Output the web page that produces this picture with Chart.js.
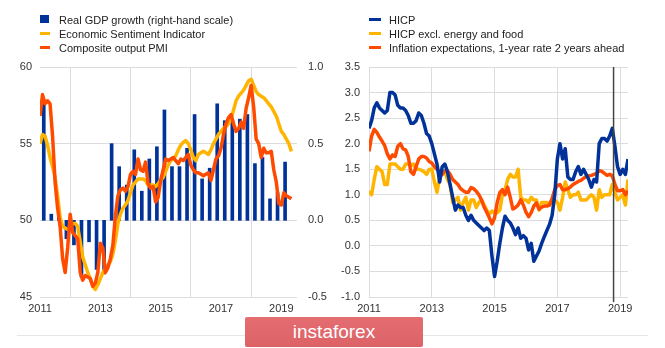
<!DOCTYPE html>
<html>
<head>
<meta charset="utf-8">
<script src="https://cdn.jsdelivr.net/npm/chart.js@4.4.1/dist/chart.umd.min.js"></script>
<style>
  html, body { margin: 0; padding: 0; background: #fff; }
  body { width: 665px; height: 348px; position: relative; overflow: hidden;
         font-family: 'Liberation Sans', Arial, sans-serif; }
  canvas { position: absolute; top: 0; }
  .legend { position: absolute; top: 13px; font-size: 11px; color: #222; }
  .legend div { position: relative; height: 14px; line-height: 14px; white-space: nowrap; }
  .legend span.mk { position: absolute; left: 0; }
  .rule { position: absolute; left: 17px; top: 335px; width: 631px; height: 1px; background: #e6e6e6; }
  .brand { position: absolute; left: 245px; top: 317px; width: 178px; height: 30px; border-radius: 2px;
           background: linear-gradient(#e46d71, #dc6266); color: #fff; font-size: 19px;
           line-height: 30px; text-align: center; }
</style>
</head>
<body>
<canvas id="left" width="333" height="320" style="left:0"></canvas>
<canvas id="right" width="332" height="320" style="left:333px"></canvas>
<div class="legend" id="legendLeft" style="left:40px"></div>
<div class="legend" id="legendRight" style="left:369px"></div>
<div class="rule"></div>
<div class="brand">instaforex</div>
<script>
// month starts Jan 2011 .. May 2019, quarter mid-points 2011Q1 .. 2019Q1
const months = [];
for (let i = 0; i < 101; i++) months.push(2011 + i / 12);
const quarters = [];
for (let i = 0; i < 33; i++) quarters.push(2011.125 + i * 0.25);
const yearTicks = [2011, 2013, 2015, 2017, 2019];
const markerYear = 2018.79;

// left panel
const gdpGrowth = [0.76, 0.04, 0.05, -0.12, -0.16, -0.37, -0.14, -0.32, -0.35, 0.5, 0.35, 0.23, 0.46,
  0.19, 0.4, 0.48, 0.72, 0.35, 0.35, 0.47, 0.69, 0.27, 0.34, 0.76, 0.65, 0.65, 0.66, 0.69, 0.37,
  0.41, 0.14, 0.18, 0.38];
const esi = [55.0, 55.6, 55.5, 54.9, 54.1, 53.5, 52.8, 51.6, 50.2, 49.6, 49.5, 49.4,
  49.5, 49.8, 49.8, 49.6, 48.6, 47.6, 47.1, 46.6, 46.2, 45.7, 45.5, 45.8,
  46.2, 46.6, 46.9, 47.1, 47.3, 47.8, 48.7, 49.8, 50.4, 50.8, 51.0, 51.3,
  51.8, 52.3, 52.5, 52.7, 52.7, 52.7, 52.6, 52.3, 52.3, 52.3, 52.2, 52.4,
  52.6, 52.8, 53.2, 53.6, 53.9, 54.0, 54.2, 54.6, 54.9, 55.1, 55.2, 55.0,
  54.6, 54.1, 53.9, 54.3, 54.4, 54.5, 54.4, 54.3, 54.6, 55.0, 55.3, 55.6,
  55.8, 56.0, 56.1, 56.3, 56.6, 57.2, 57.8, 58.1, 58.3, 58.5, 58.8, 59.1,
  59.2, 58.8, 58.4, 58.2, 58.1, 58.0, 57.8, 57.6, 57.4, 57.1, 56.8, 56.3,
  55.8, 55.6, 55.3, 55.0, 54.5];
const pmi = [56.8, 58.2, 57.6, 57.8, 57.6, 55.5, 52.5, 50.8, 49.6, 47.5, 46.6, 48.2,
  50.4, 49.2, 49.0, 48.8, 46.6, 46.1, 46.4, 46.3, 46.2, 45.7, 45.9, 46.6,
  48.5, 48.2, 46.6, 46.9, 47.5, 48.4, 50.3, 51.6, 52.0, 52.1, 51.9, 52.2,
  53.0, 53.2, 53.0, 54.0, 53.3, 53.2, 53.8, 52.4, 52.1, 52.2, 51.2, 51.5,
  52.6, 53.3, 54.0, 53.9, 54.0, 54.1, 53.9, 53.7, 54.0, 53.9, 54.1, 54.3,
  53.6, 53.3, 53.1, 53.1, 53.0, 52.9, 53.0, 53.1, 52.6, 53.3, 54.0, 54.2,
  54.7, 55.6, 56.3, 56.7, 56.9, 56.3, 55.8, 56.0, 56.4, 56.0, 57.3, 58.0,
  58.8, 57.4, 55.3, 55.0, 54.1, 54.7, 54.4, 54.4, 54.5, 53.3, 52.5, 51.1,
  51.0, 51.8, 51.6, 51.5, 51.4];

// right panel
const hicp = [2.3, 2.45, 2.7, 2.8, 2.7, 2.65, 2.6, 2.65, 3.0, 3.0, 2.95, 2.75,
  2.7, 2.7, 2.65, 2.55, 2.4, 2.4, 2.45, 2.6, 2.55, 2.4, 2.2, 2.15,
  2.0, 1.8, 1.6, 1.25, 1.55, 1.6, 1.45, 1.2, 0.95, 0.7, 0.8, 0.75,
  0.75, 0.6, 0.5, 0.6, 0.5, 0.45, 0.4, 0.35, 0.3, 0.35, 0.3, -0.2,
  -0.6, -0.3, 0.05, 0.35, 0.58, 0.5, 0.45, 0.35, 0.22, 0.35, 0.15, 0.2,
  0.15, -0.08, 0.05, -0.3, -0.2, -0.1, 0.05, 0.18, 0.3, 0.42, 0.6, 1.0,
  1.7, 2.0, 1.7, 1.9, 1.35, 1.3, 1.3, 1.45, 1.55, 1.4, 1.5, 1.4,
  1.3, 1.15, 1.3, 1.25, 2.0, 2.1, 2.1, 2.05, 2.15, 2.3, 1.95, 1.55,
  1.4, 1.5, 1.4, 1.7];
const hicpCore = [1.07, 1.0, 1.3, 1.55, 1.5, 1.45, 1.2, 1.2, 1.6, 1.6, 1.6, 1.55,
  1.5, 1.5, 1.6, 1.6, 1.58, 1.6, 1.5, 1.5, 1.48, 1.45, 1.4, 1.5,
  1.5, 1.25, 1.05, 1.35, 1.4, 1.45, 1.3, 1.2, 0.85, 0.9, 0.95, 0.7,
  0.85, 0.95, 0.7, 0.9, 0.9, 0.75, 0.85, 0.9, 0.8, 0.7, 0.62, 0.68,
  0.65, 0.65, 0.7, 1.0, 1.1, 1.3, 1.4, 1.35, 1.35, 1.5, 0.95, 0.9,
  0.9, 0.85, 0.95, 0.9, 0.9, 0.7, 0.85, 0.85, 0.85, 0.8, 0.9, 0.9,
  0.85, 0.7, 0.95, 1.25, 1.1, 0.95, 1.0, 1.0, 1.05, 0.9, 0.9, 0.9,
  0.95, 1.0, 0.95, 0.7, 1.1, 0.95, 1.0, 1.0, 1.0, 1.2, 1.05, 0.9,
  0.95, 1.0, 0.8, 1.3];
const inflExpect = [1.85, 2.15, 2.28, 2.22, 2.13, 2.05, 1.96, 1.8, 1.7, 1.78, 1.75, 1.95,
  2.0, 1.9, 1.88, 1.75, 1.45, 1.4, 1.55, 1.7, 1.75, 1.75, 1.72, 1.65,
  1.62, 1.55, 1.5, 1.45, 1.4, 1.47, 1.47, 1.4, 1.3, 1.25, 1.2, 1.12,
  1.08, 1.05, 1.05, 1.14, 1.12, 1.07, 1.0, 0.9, 0.76, 0.66, 0.55, 0.43,
  0.55, 0.85, 1.04, 1.1, 1.0, 1.15, 0.95, 0.72, 0.75, 0.8, 0.9, 0.8,
  0.66, 0.57, 0.65, 0.78, 0.84, 0.72, 0.76, 0.78, 0.78, 0.8, 0.93, 1.1,
  1.18, 1.2, 1.1, 1.1, 1.12, 1.15, 1.2, 1.23, 1.26, 1.28, 1.32, 1.36,
  1.37, 1.38, 1.4, 1.42, 1.47, 1.46, 1.42, 1.38, 1.4, 1.37, 1.2, 1.08,
  1.08, 1.1, 1.0, 1.08];

const BLUE = '#003299';
const YELLOW = '#ffb400';
const ORANGE = '#ff4b00';
const GRID = '#dcdcdc';

Chart.defaults.font.family = "'Liberation Sans', Arial, sans-serif";
Chart.defaults.font.size = 11;
Chart.defaults.color = '#333';
Chart.defaults.animation = false;
Chart.defaults.elements.point.radius = 0;
Chart.defaults.elements.line.borderWidth = 3.5;
Chart.defaults.elements.line.borderJoinStyle = 'round';
Chart.defaults.elements.line.tension = 0;

const pts = (xs, ys) => ys.map((v, i) => ({ x: xs[i], y: v }));

function xAxis(max) {
    return {
        type: 'linear', min: 2011, max: max,
        grid: { color: GRID, drawTicks: false },
        border: { display: false },
        ticks: { padding: 5, maxRotation: 0, callback: v => String(v) },
        afterBuildTicks: s => { s.ticks = yearTicks.map(v => ({ value: v })); },
        afterFit: s => { s.height = 23; }
    };
}

const common = {
    responsive: false,
    events: [],
    plugins: { legend: { display: false }, tooltip: { enabled: false } }
};

const leftChart = new Chart(document.getElementById('left'), {
    type: 'line',
    data: {
        datasets: [
            { type: 'bar', label: 'Real GDP growth (right-hand scale)', data: pts(quarters, gdpGrowth),
              backgroundColor: BLUE, yAxisID: 'y1', barThickness: 3, order: 3 },
            { label: 'Economic Sentiment Indicator', data: pts(months, esi),
              borderColor: YELLOW, yAxisID: 'y', order: 2 },
            { label: 'Composite output PMI', data: pts(months, pmi),
              borderColor: ORANGE, yAxisID: 'y', order: 1 }
        ]
    },
    options: {
        ...common,
        layout: { padding: { top: 67, right: 0, left: 0, bottom: 0 } },
        scales: {
            x: Object.assign(xAxis(2019.52), { offset: false }),
            y: {
                position: 'left', min: 45, max: 60,
                ticks: { stepSize: 5, padding: 8 },
                grid: { color: GRID, drawTicks: false },
                border: { display: false },
                afterFit: s => { s.width = 40; }
            },
            y1: {
                position: 'right', min: -0.5, max: 1.0,
                ticks: { stepSize: 0.5, padding: 11, callback: v => v.toFixed(1) },
                grid: { display: false, drawTicks: false },
                border: { display: false },
                afterFit: s => { s.width = 36; }
            }
        }
    }
});

const rightChart = new Chart(document.getElementById('right'), {
    type: 'line',
    data: {
        datasets: [
            { label: 'HICP', data: pts(months, hicp), borderColor: BLUE, order: 1 },
            { label: 'HICP excl. energy and food', data: pts(months, hicpCore), borderColor: YELLOW, order: 3 },
            { label: 'Inflation expectations, 1-year rate 2 years ahead', data: pts(months, inflExpect),
              borderColor: ORANGE, order: 2 },
            { label: 'marker', data: [{ x: markerYear, y: -1.1 }, { x: markerYear, y: 3.5 }],
              borderColor: '#444', borderWidth: 1.5, clip: false, order: 0 }
        ]
    },
    options: {
        ...common,
        layout: { padding: { top: 67, right: 37, left: 0, bottom: 0 } },
        scales: {
            x: xAxis(2019.25),
            y: {
                min: -1, max: 3.5,
                ticks: { stepSize: 0.5, padding: 9, callback: v => v.toFixed(1) },
                grid: { color: GRID, drawTicks: false },
                border: { display: false },
                afterFit: s => { s.width = 36; }
            }
        }
    }
});

// html legends, one entry per row, built from the chart datasets
function buildLegend(el, chart, markerWidth, textLeft) {
    chart.data.datasets.filter(d => d.label !== 'marker').forEach(d => {
        const row = document.createElement('div');
        row.style.paddingLeft = textLeft + 'px';
        const mk = document.createElement('span');
        mk.className = 'mk';
        if (d.type === 'bar') {
            Object.assign(mk.style, { top: '2px', width: '9px', height: '8px', background: d.backgroundColor });
        } else {
            Object.assign(mk.style, { top: '5px', width: markerWidth + 'px', height: '3px', background: d.borderColor });
        }
        row.appendChild(mk);
        row.appendChild(document.createTextNode(d.label));
        el.appendChild(row);
    });
}
buildLegend(document.getElementById('legendLeft'), leftChart, 10, 19);
buildLegend(document.getElementById('legendRight'), rightChart, 12, 20);
</script>
</body>
</html>
